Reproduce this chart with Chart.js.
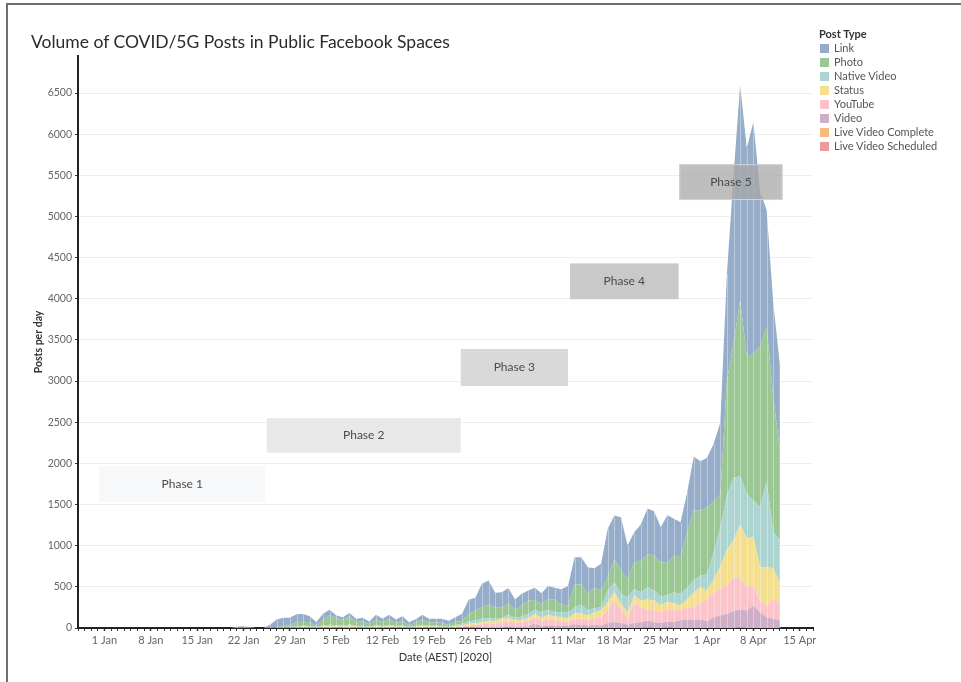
<!DOCTYPE html>
<html>
<head>
<meta charset="utf-8">
<title>Volume of COVID/5G Posts in Public Facebook Spaces</title>
<script src="https://cdn.jsdelivr.net/npm/chart.js@4.4.1/dist/chart.umd.min.js"></script>
<style>
  body { margin: 0; background: #fff; font-family: Lato, "Open Sans", sans-serif; }
  #wrap { position: relative; width: 961px; height: 682px; overflow: hidden; }
  #frame { position: absolute; left: 6px; top: 3px; width: 1000px; height: 800px;
           border-left: 2px solid #6e6e6e; border-top: 2px solid #6e6e6e; }
  #chart { position: absolute; left: 0; top: 0; }
  #title { position: absolute; left: 31px; top: 32px; font-size: 17.5px; line-height: 20px;
           color: #2b2b2b; white-space: nowrap; }
  #legend { position: absolute; left: 819px; top: 27px; font-size: 11px; color: #555; }
  #legend .head { font-weight: bold; color: #333; height: 14px; line-height: 14px; }
  #legend .item { height: 14px; line-height: 14px; white-space: nowrap; }
  #legend .sw { display: inline-block; width: 9px; height: 9px; margin: 0 5px 0 1px; vertical-align: -1px; }
</style>
</head>
<body>
<div id="wrap">
  <div id="frame"></div>
  <canvas id="chart" width="961" height="682"></canvas>
  <div id="title">Volume of COVID/5G Posts in Public Facebook Spaces</div>
  <div id="legend"></div>
</div>
<script>
// Fechas (2020), una por dia
const dates = [
  '01-20','01-21','01-22','01-23','01-24','01-25','01-26','01-27','01-28','01-29','01-30','01-31',
  '02-01','02-02','02-03','02-04','02-05','02-06','02-07','02-08','02-09','02-10','02-11','02-12',
  '02-13','02-14','02-15','02-16','02-17','02-18','02-19','02-20','02-21','02-22','02-23','02-24',
  '02-25','02-26','02-27','02-28','02-29',
  '03-01','03-02','03-03','03-04','03-05','03-06','03-07','03-08','03-09','03-10','03-11','03-12',
  '03-13','03-14','03-15','03-16','03-17','03-18','03-19','03-20','03-21','03-22','03-23','03-24',
  '03-25','03-26','03-27','03-28','03-29','03-30','03-31',
  '04-01','04-02','04-03','04-04','04-05','04-06','04-07','04-08','04-09','04-10','04-11','04-12'
];

// Posts por dia, por tipo
const linkPosts = [
  0, 12, 15, 8, 0, 0, 32,
  91, 102, 89, 98, 93, 74, 44, 71, 63, 36, 35, 39, 44, 43, 34, 59, 43, 51, 42, 54, 43, 38, 59, 43, 43, 51, 51, 54,
  87, 171, 155, 284, 292, 175, 182, 191, 125, 142, 122, 146, 138, 154, 146, 185, 237, 333, 328, 324, 239, 324,
  588, 527, 647, 416, 364, 437, 555, 538, 425, 579, 446, 426, 486, 654, 602, 603, 703, 875, 1300, 2050, 2620,
  2530, 2820, 1890, 1420, 1150, 1040
];
const photoPosts = [
  0, 3, 5, 2, 0, 0, 4,
  4, 11, 20, 48, 50, 46, 14, 72, 119, 84, 69, 98, 46, 55, 29, 67, 44, 74, 38, 58, 15, 44, 64, 42, 41, 36, 18, 40,
  34, 89, 121, 142, 162, 142, 130, 133, 98, 133, 162, 121, 93, 133, 150, 90, 87, 274, 249, 200, 247, 203,
  161, 284, 284, 212, 324, 385, 397, 425, 417, 393, 446, 445, 674, 850, 790, 813, 625, 400, 1390, 1624, 2139,
  1668, 1780, 1950, 1886, 1635, 1091
];
const nativeVideoPosts = [
  0, 0, 0, 0, 0, 0, 2,
  3, 4, 6, 8, 10, 9, 6, 12, 18, 14, 12, 14, 9, 10, 6, 14, 10, 14, 9, 12, 5, 10, 14, 10, 10, 10, 6, 12,
  21, 32, 32, 40, 32, 28, 12, 37, 32, 41, 49, 49, 69, 61, 52, 65, 70, 71, 107, 63, 49, 38,
  143, 121, 121, 182, 81, 101, 153, 122, 110, 82, 134, 142, 140, 150, 135, 192, 320, 470, 662, 757, 590,
  542, 448, 725, 1037, 440, 526
];
const statusPosts = [
  0, 0, 0, 0, 0, 0, 1,
  2, 3, 4, 6, 8, 7, 4, 8, 10, 9, 8, 14, 7, 8, 5, 9, 7, 10, 7, 9, 4, 7, 11, 8, 8, 7, 5, 12,
  12, 21, 21, 28, 32, 32, 40, 40, 32, 28, 40, 40, 40, 49, 49, 45, 41, 67, 66, 52, 80, 91,
  98, 101, 61, 80, 82, 81, 122, 119, 81, 80, 86, 58, 105, 180, 195, 110, 160, 274, 432, 452, 653,
  588, 586, 411, 464, 370, 249
];
const youtubePosts = [
  0, 0, 0, 0, 0, 0, 1,
  2, 3, 4, 5, 6, 5, 3, 6, 8, 7, 6, 12, 5, 6, 4, 8, 6, 8, 5, 7, 3, 6, 9, 7, 7, 6, 5, 10,
  13, 22, 28, 31, 44, 39, 53, 63, 44, 53, 63, 77, 61, 81, 66, 60, 50, 67, 73, 70, 73, 94,
  154, 261, 172, 73, 252, 180, 136, 142, 131, 160, 142, 122, 145, 155, 200, 270, 299, 324, 344, 413, 377,
  290, 243, 142, 142, 243, 203
];
const videoPosts = [
  0, 0, 0, 0, 0, 0, 0,
  1, 1, 2, 2, 3, 2, 1, 3, 3, 3, 2, 4, 2, 2, 1, 3, 2, 3, 2, 3, 1, 2, 3, 2, 3, 2, 2, 3,
  5, 8, 10, 12, 15, 12, 18, 20, 15, 18, 20, 55, 22, 30, 25, 25, 25, 48, 37, 30, 39, 30,
  61, 73, 61, 39, 61, 73, 85, 73, 61, 73, 73, 93, 100, 95, 105, 80, 131, 152, 172, 204, 221,
  212, 273, 192, 131, 112, 91
];
const liveCompletePosts = [
  0, 0, 0, 0, 0, 0, 0,
  0, 0, 0, 0, 0, 0, 0, 0, 0, 0, 0, 0, 0, 0, 0, 0, 0, 0, 0, 0, 0, 0, 0, 0, 0, 0, 0, 0,
  0, 0, 0, 0, 0, 0, 0, 0, 0, 0, 0, 0, 0, 2, 0, 0, 0, 0, 0, 0, 0, 0,
  0, 0, 0, 0, 0, 0, 3, 0, 0, 0, 0, 0, 0, 0, 0, 0, 0, 0, 0, 0, 4,
  0, 0, 0, 0, 0, 0
];
const liveScheduledPosts = [
  0, 0, 0, 0, 0, 0, 0,
  0, 0, 0, 0, 0, 0, 0, 0, 0, 0, 0, 0, 0, 0, 0, 0, 0, 0, 0, 0, 0, 0, 0, 0, 0, 0, 0, 0,
  0, 0, 0, 0, 0, 0, 0, 2, 0, 0, 0, 0, 0, 0, 0, 0, 0, 0, 0, 0, 0, 0,
  0, 0, 0, 0, 0, 0, 0, 0, 0, 2, 0, 0, 0, 0, 0, 0, 0, 0, 0, 0, 0,
  0, 0, 0, 0, 0, 0
];

const postTypes = ['Link', 'Photo', 'Native Video', 'Status', 'YouTube', 'Video', 'Live Video Complete', 'Live Video Scheduled'];
const postValues = [linkPosts, photoPosts, nativeVideoPosts, statusPosts, youtubePosts, videoPosts, liveCompletePosts, liveScheduledPosts];
const postColors = ['#95adc9', '#9bc795', '#acd4d1', '#f4df91', '#fbc3ca', '#cfafc7', '#f7bb80', '#ed9a9b'];

// Marcas del eje Y
const yTickValues = [0, 500, 1000, 1500, 2000, 2500, 3000, 3500, 4000, 4500, 5000, 5500, 6000, 6500];

// Etiquetas del eje X (semanales)
const xTickDates = ['01-01', '01-08', '01-15', '01-22', '01-29', '02-05', '02-12', '02-19', '02-26',
                    '03-04', '03-11', '03-18', '03-25', '04-01', '04-08', '04-15'];
const xTickLabels = ['1 Jan', '8 Jan', '15 Jan', '22 Jan', '29 Jan', '5 Feb', '12 Feb', '19 Feb', '26 Feb',
                     '4 Mar', '11 Mar', '18 Mar', '25 Mar', '1 Apr', '8 Apr', '15 Apr'];

// Cajas de fases (dias desde 1 Jan, posts por dia)
const phaseNames = ['Phase 1', 'Phase 2', 'Phase 3', 'Phase 4', 'Phase 5'];
const phaseStartDay = [-0.8, 24.5, 53.8, 70.3, 86.8];
const phaseEndDay = [24.3, 53.8, 70.0, 86.7, 102.4];
const phaseLow = [1530, 2130, 2940, 3995, 5200];
const phaseHigh = [1970, 2550, 3390, 4430, 5635];
const phaseFills = ['#f7f8fa', '#e8e8e8', '#d9d9d9', '#c9c9c9', 'rgba(168,168,168,0.75)'];
const phaseBorders = [null, null, null, null, '#d4d4d4'];

function dayOf(mmdd) {
  const [m, d] = mmdd.split('-').map(Number);
  return (Date.UTC(2020, m - 1, d) - Date.UTC(2020, 0, 1)) / 86400000;
}

const labelForDay = {};
xTickDates.forEach((d, i) => { labelForDay[dayOf(d)] = xTickLabels[i]; });

// Leyenda en HTML
const legendEl = document.getElementById('legend');
let legendHtml = '<div class="head">Post Type</div>';
postTypes.forEach((name, i) => {
  legendHtml += `<div class="item"><span class="sw" style="background:${postColors[i]}"></span>${name}</div>`;
});
legendEl.innerHTML = legendHtml;

// Se apilan de abajo hacia arriba (orden inverso a la leyenda)
const stackOrder = postTypes.map((_, i) => i).reverse();
const datasets = stackOrder.map((i, k) => ({
  label: postTypes[i],
  data: dates.map((d, j) => ({ x: dayOf(d), y: postValues[i][j] })),
  backgroundColor: postColors[i],
  borderWidth: 0,
  pointRadius: 0,
  tension: 0,
  fill: k === 0 ? 'origin' : '-1'
}));

// Lineas blancas por dia y cajas de fases
const overlayPlugin = {
  id: 'overlay',
  afterDatasetsDraw(chart) {
    const ctx = chart.ctx;
    const xs = chart.scales.x;
    const ys = chart.scales.y;
    ctx.save();
    ctx.strokeStyle = 'rgba(255,255,255,0.35)';
    ctx.lineWidth = 1;
    dates.forEach((d, j) => {
      let total = 0;
      postValues.forEach(arr => { total += arr[j]; });
      if (total <= 0) return;
      const x = Math.round(xs.getPixelForValue(dayOf(d))) + 0.5;
      ctx.beginPath();
      ctx.moveTo(x, ys.getPixelForValue(0));
      ctx.lineTo(x, ys.getPixelForValue(total));
      ctx.stroke();
    });

    phaseNames.forEach((name, i) => {
      const x1 = xs.getPixelForValue(phaseStartDay[i]);
      const x2 = xs.getPixelForValue(phaseEndDay[i]);
      const y1 = ys.getPixelForValue(phaseHigh[i]);
      const y2 = ys.getPixelForValue(phaseLow[i]);
      ctx.fillStyle = phaseFills[i];
      ctx.fillRect(x1, y1, x2 - x1, y2 - y1);
      if (phaseBorders[i]) {
        ctx.strokeStyle = phaseBorders[i];
        ctx.lineWidth = 1;
        ctx.strokeRect(x1 + 0.5, y1 + 0.5, x2 - x1 - 1, y2 - y1 - 1);
      }
      ctx.fillStyle = '#4a4a4a';
      ctx.font = '12px Lato';
      ctx.textAlign = 'center';
      ctx.textBaseline = 'middle';
      ctx.fillText(name, (x1 + x2) / 2, (y1 + y2) / 2);
    });
    ctx.restore();
  }
};

new Chart(document.getElementById('chart'), {
  type: 'line',
  data: { datasets },
  plugins: [overlayPlugin],
  options: {
    responsive: false,
    animation: false,
    layout: { padding: { left: 28, right: 148, top: 56, bottom: 14 } },
    plugins: { legend: { display: false }, tooltip: { enabled: false } },
    scales: {
      x: {
        type: 'linear',
        min: -4,
        max: 107,
        afterFit: s => { s.height = 40; },
        ticks: {
          stepSize: 1,
          autoSkip: false,
          maxRotation: 0,
          includeBounds: false,
          padding: 3,
          color: '#666',
          font: { family: 'Lato', size: 11 },
          callback: v => labelForDay[v] || ''
        },
        grid: {
          drawOnChartArea: false,
          drawTicks: true,
          tickLength: 3,
          tickColor: '#333',
          tickWidth: c => (c.tick && labelForDay[c.tick.value] ? 1.5 : 1)
        },
        border: { color: '#222', width: 2 },
        title: {
          display: true,
          text: 'Date (AEST) [2020]',
          color: '#333',
          font: { family: 'Lato', size: 11 },
          padding: { top: 4, bottom: 4 }
        }
      },
      y: {
        stacked: true,
        min: 0,
        max: 6950,
        afterFit: s => { s.width = 50; },
        afterBuildTicks: s => { s.ticks = yTickValues.map(v => ({ value: v })); },
        ticks: {
          padding: 3,
          color: '#666',
          font: { family: 'Lato', size: 10.5 },
          callback: v => String(v)
        },
        grid: { color: '#eeeeee', tickColor: '#333', tickLength: 3 },
        border: { color: '#222', width: 2 },
        title: {
          display: true,
          text: 'Posts per day',
          color: '#333',
          font: { family: 'Lato', size: 10.5, weight: 'bold' },
          padding: { top: 4, bottom: 4 }
        }
      }
    }
  }
});
</script>
</body>
</html>
